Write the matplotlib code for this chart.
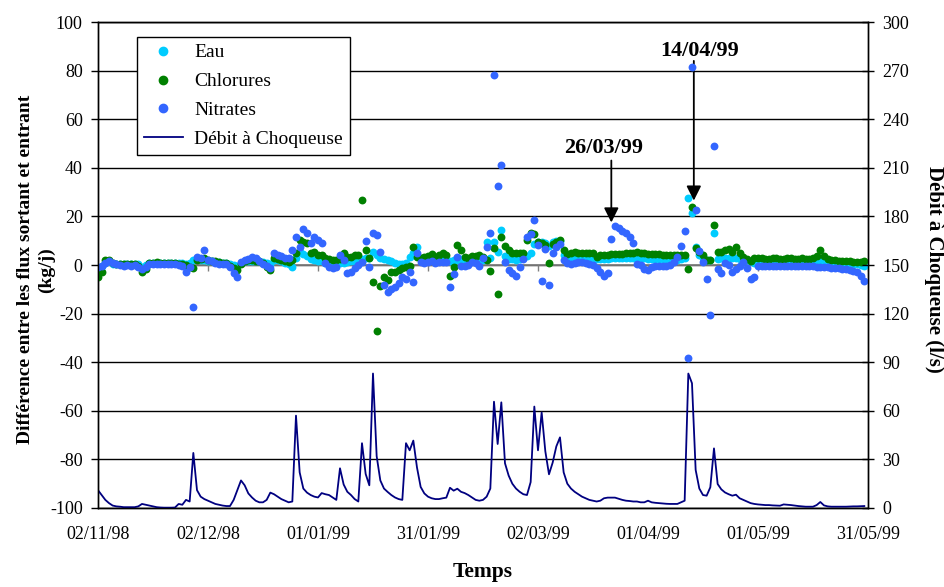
import matplotlib
matplotlib.use('Agg')
import matplotlib.pyplot as plt
from matplotlib.lines import Line2D
import pandas as pd

plt.rcParams['font.family'] = ['Liberation Serif', 'DejaVu Serif']
plt.rcParams['axes.unicode_minus'] = False

# ---------------- data (daily values from 02/11/98) ----------------
start_date = '1998-11-02'
tick_labels = ['02/11/98', '02/12/98', '01/01/99', '31/01/99',
               '02/03/99', '01/04/99', '01/05/99', '31/05/99']

eau = [-1.5, -0.5, 1.0, 1.5, 0.5, 0.5, 0.5, 0.3, 0.5, 0.3,
       0.5, 0.3, -1.0, 0.0, 0.8, 0.8, 0.8, 0.8, 0.8, 0.8,
       0.8, 0.8, 0.8, 0.8, 0.5, 1.0, 2.0, 2.5, 2.2, 2.0,
       1.8, 1.5, 1.4, 1.2, 1.0, 0.8, 0.5, 0.0, -0.5, 1.0,
       1.5, 1.8, 1.8, 1.6, 1.5, 1.2, 0.8, 0.5, 2.0, 2.0,
       1.5, 1.0, 0.5, -0.7, 3.0, 5.5, 4.5, 3.5, 2.5, 2.0,
       1.8, 1.5, 1.0, 1.0, 0.8, 0.8, 1.0, 1.0, 1.2, 1.5,
       1.8, 2.2, 2.5, 3.0, 2.8, 5.5, 4.0, 3.0, 2.5, 2.0,
       1.5, 1.0, 0.5, 0.3, 1.0, 3.4, 4.8, 7.3, 2.5, 2.0,
       2.0, 2.2, 2.0, 2.0, 2.2, 2.0, 1.5, 2.0, 2.2, 2.5,
       2.2, 2.0, 2.2, 2.5, 2.5, 2.0, 9.6, 3.0, 9.6, 5.5,
       14.4, 3.5, 2.5, 2.5, 2.2, 2.5, 2.8, 3.5, 4.8, 8.5,
       9.5, 9.5, 9.0, 8.0, 9.5, 10.0, 10.0, 4.0, 3.0, 2.8,
       2.8, 2.5, 2.5, 2.5, 2.5, 2.4, 2.5, 2.5, 2.5, 2.6,
       2.7, 2.8, 2.8, 3.0, 3.0, 3.0, 3.0, 3.0, 2.8, 2.8,
       2.6, 2.5, 2.5, 2.4, 2.3, 2.2, 2.2, 2.0, 2.0, 2.5,
       3.0, 27.4, 21.3, 7.5, 4.0, 3.0, 2.0, 2.0, 13.3, 2.5,
       2.8, 3.0, 3.0, 2.8, 3.0, 2.5, 2.5, 2.0, 1.5, 1.0,
       1.0, 1.0, 0.9, 1.0, 1.0, 1.1, 1.0, 1.0, 0.9, 1.0,
       1.0, 1.0, 1.0, 1.1, 1.2, 1.2, 1.3, 1.5, 1.2, 1.0,
       1.0, 0.9, 0.8, 0.8, 0.7, 0.6, 0.5, 0.3, 0.0, -0.5]

chlorures = [-4.8, -2.7, 2.0, 2.0, 1.0, 0.5, 0.5, 0.3, 0.5, 0.3,
             0.3, -0.5, -2.7, -1.5, 0.8, 1.0, 1.2, 1.0, 1.0, 0.8,
             1.0, 0.8, 0.5, 0.3, 0.0, -1.0, -1.4, 2.0, 2.5, 2.7,
             2.0, 1.8, 1.5, 1.4, 1.0, 0.8, -0.5, -1.4, -2.0, 0.5,
             1.5, 2.0, 2.0, 1.8, 1.5, 1.0, -1.0, -2.0, 2.7, 2.5,
             2.0, 1.5, 1.4, 2.0, 5.0, 10.3, 9.6, 8.9, 4.8, 5.5,
             4.1, 4.1, 2.7, 2.5, 2.0, 2.0, 2.5, 4.8, 3.4, 3.4,
             4.1, 4.0, 26.7, 6.2, 2.7, -6.9, -27.0, -8.6, -5.1, -6.2,
             -2.7, -2.7, -2.0, -1.4, -1.0, -0.4, 7.3, 3.4, 2.7, 3.4,
             3.8, 4.5, 3.4, 4.1, 4.8, 4.0, -4.5, -1.0, 8.2, 6.2,
             3.4, 3.0, 3.7, 3.7, 4.1, 3.4, 2.0, -2.3, 6.9, -11.9,
             11.7, 7.8, 6.2, 5.1, 4.8, 4.8, 4.8, 10.3, 13.3, 12.8,
             9.6, 8.9, 8.2, 0.7, 8.6, 9.6, 10.3, 6.2, 4.5, 5.0,
             5.2, 5.0, 5.0, 4.8, 5.0, 4.8, 3.4, 4.0, 4.2, 4.3,
             4.5, 4.5, 4.5, 4.6, 4.8, 4.8, 5.0, 5.5, 5.0, 4.8,
             4.5, 4.5, 4.5, 4.4, 4.3, 4.2, 4.1, 4.1, 4.0, 4.0,
             4.1, -1.6, 24.0, 6.9, 5.5, 4.1, 2.0, 2.0, 16.5, 5.5,
             5.5, 6.0, 6.4, 5.5, 7.3, 4.8, 3.4, 2.5, 1.8, 2.7,
             3.0, 2.8, 2.5, 2.5, 2.7, 3.0, 2.5, 2.5, 2.8, 2.7,
             2.5, 2.5, 2.7, 2.5, 2.5, 3.0, 3.5, 6.2, 3.5, 2.5,
             2.2, 2.0, 1.8, 1.8, 1.5, 1.5, 1.4, 1.4, 1.4, 1.5]

nitrates = [-1.0, -0.5, 1.0, 1.8, 0.8, 0.3, 0.0, -0.3, 0.0, -0.5,
            0.0, -1.0, -1.8, -0.8, 0.3, 0.5, 0.3, 0.3, 0.5, 0.3,
            0.5, 0.3, 0.0, -0.5, -2.7, -0.7, -17.1, 3.4, 2.7, 6.2,
            2.0, 1.5, 0.8, 0.5, 0.3, 0.5, -0.7, -3.2, -5.1, 1.4,
            2.0, 2.5, 3.4, 2.7, 1.5, 0.5, -0.5, -1.4, 5.0, 4.0,
            3.5, 3.0, 2.7, 6.2, 11.7, 7.5, 14.7, 13.0, 8.9, 11.7,
            10.3, 8.9, 1.0, -1.0, -1.4, -1.0, 4.1, 2.0, -3.4, -2.7,
            -1.4, 0.0, 1.4, 9.9, -1.0, 13.3, 12.3, 5.5, -8.2, -11.0,
            -9.9, -8.9, -7.5, -4.8, -5.9, -2.7, -6.9, 4.8, 1.4, 1.0,
            1.4, 1.8, 0.7, 1.4, 1.4, 1.4, -8.9, -3.7, 3.4, -0.4,
            -0.4, 0.0, 1.4, 1.0, -0.4, 2.7, 7.3, 13.3, 78.0, 32.5,
            41.0, 1.4, -2.0, -3.2, -4.5, -1.0, 2.3, 11.7, 12.8, 18.5,
            8.2, -6.4, 6.4, -8.2, 4.8, 7.5, 8.6, 2.0, 1.0, 0.4,
            1.0, 1.2, 1.4, 1.0, 0.5, 0.0, -1.4, -2.7, -4.5, -3.4,
            10.7, 16.0, 15.1, 14.1, 13.0, 11.4, 9.2, 0.4, 0.0, -1.8,
            -2.0, -1.0, -0.6, -0.4, -0.4, -0.4, 0.0, 1.4, 3.4, 7.8,
            14.1, -38.3, 81.5, 22.6, 5.9, 1.4, -5.9, -20.6, 49.0, -1.8,
            -3.2, 1.0, 0.0, -2.7, -1.8, -0.4, 1.4, -1.4, -5.9, -5.1,
            -0.5, -0.5, -0.4, -0.5, -0.5, -0.6, -0.5, -0.5, -0.4, -0.5,
            -0.5, -0.5, -0.6, -0.5, -0.5, -0.6, -0.7, -0.8, -1.0, -1.0,
            -1.2, -1.4, -1.4, -1.8, -1.8, -2.0, -2.3, -2.7, -4.5, -6.4]

debit = [11, 8, 5, 3, 1.5, 1, 0.8, 0.5, 0.5, 0.5,
         0.5, 1, 2.5, 2, 1.5, 1, 0.5, 0.3, 0.2, 0.2,
         0.2, 0.3, 2.5, 2, 5, 4, 34, 11, 7, 5.5,
         4.5, 3.5, 2.5, 2, 1.5, 1.2, 1.2, 5, 11, 17,
         14, 9, 6.5, 4.5, 3.5, 3.5, 5, 9.5, 8.5, 7,
         5.5, 4.5, 3.5, 4, 57, 22, 12, 9.5, 8, 7,
         6.5, 9.2, 8.5, 8, 6.5, 5, 24.5, 14.5, 10, 8,
         5.5, 4, 40, 21, 14, 83, 32, 17, 12, 9.9,
         8, 6.5, 5.5, 5, 40, 35.6, 41.6, 25, 13, 9,
         7, 6, 5.5, 5.5, 6, 6.4, 12.5, 10.7, 11.9, 10,
         9.2, 8, 6.5, 5, 4.5, 5, 7, 12, 65.6, 39.5,
         65.2, 27.6, 20, 15, 12, 10, 8.5, 8, 16, 62.6,
         35.6, 59, 35, 20.8, 28, 38, 43.6, 22, 15, 12,
         10, 8.5, 7, 6, 5, 4.5, 4, 4.5, 6, 6.4,
         6.4, 6.4, 5.7, 5, 4.5, 4.3, 4, 4, 3.5, 3.5,
         4.5, 3.5, 3.2, 3, 2.8, 2.6, 2.5, 2.5, 2.5, 3.5,
         4.5, 83, 77, 23.5, 12, 8, 7.6, 12.8, 36.8, 14.8,
         11.5, 9.6, 8.5, 7.6, 8.2, 6, 5, 4, 3, 2.5,
         2.2, 2, 1.8, 1.8, 1.6, 1.5, 1.4, 2.2, 2, 1.8,
         1.5, 1.2, 1, 0.8, 0.8, 0.8, 1.8, 3.7, 1.6, 1,
         0.8, 0.8, 0.8, 0.8, 0.8, 0.9, 1, 1, 1.1, 1.2]

dates = pd.date_range(start_date, periods=len(eau), freq='D')
tick_dates = pd.to_datetime(tick_labels, format='%d/%m/%y')

c_eau = '#00CCFF'
c_chl = '#008000'
c_nit = '#3366FF'
c_deb = '#000080'

#--------------------------------------------------------
fig = plt.figure(figsize=(9.45, 5.87), dpi=100)
ax = fig.add_axes([0.1037, 0.1346, 0.8148, 0.8279])
ax2 = ax.twinx()

ax.set_ylim(-100, 100)
ax.set_yticks(range(-100, 101, 20))
ax.set_xlim(tick_dates[0], tick_dates[-1])
ax.yaxis.grid(True, color='black', lw=1)
ax.set_axisbelow(True)
ax.axhline(0, color='#808080', lw=1.3, zorder=1)
ax.vlines(tick_dates, -2.5, 0, color='#808080', lw=1, zorder=1)

ms = 32
ax.scatter(dates, eau, s=ms, color=c_eau, lw=0, zorder=3)
ax.scatter(dates, chlorures, s=ms, color=c_chl, lw=0, zorder=4)
ax.scatter(dates, nitrates, s=ms, color=c_nit, lw=0, zorder=5)

ax2.plot(dates, debit, color=c_deb, lw=1.3)
ax2.set_ylim(0, 300)
ax2.set_yticks(range(0, 301, 30))

ax.set_xticks(tick_dates)
ax.set_xticklabels(tick_labels)
ax.tick_params(axis='x', length=0, pad=13, labelsize=13)
ax.tick_params(axis='y', direction='out', length=5, width=1, pad=6, labelsize=13)
ax2.tick_params(axis='y', direction='inout', length=9, width=1, pad=6, labelsize=13)

for a in (ax, ax2):
    for s in a.spines.values():
        s.set_color('black')
        s.set_linewidth(1)

ax.set_ylabel('Différence entre les flux sortant et entrant\n(kg/j)',
              fontsize=14, fontweight='bold', linespacing=1.3)
ax.yaxis.set_label_coords(-0.056, 0.49)
ax2.set_ylabel('Débit à Choqueuse (l/s)', fontsize=15, fontweight='bold',
               rotation=270, va='bottom')
ax2.yaxis.set_label_coords(1.073, 0.49)
ax.set_xlabel('Temps', fontsize=15.5, fontweight='bold', labelpad=14)

# annotations
ax.annotate('', xy=(pd.Timestamp('1999-03-22'), 17.5),
            xytext=(pd.Timestamp('1999-03-22'), 43),
            arrowprops=dict(arrowstyle='-|>', color='black', lw=1.3,
                            mutation_scale=22, shrinkA=0, shrinkB=0))
ax.text(pd.Timestamp('1999-03-20'), 48, '26/03/99', ha='center', va='center',
        fontsize=16, fontweight='bold')
ax.annotate('', xy=(pd.Timestamp('1999-04-13 12:00'), 26.5),
            xytext=(pd.Timestamp('1999-04-13 12:00'), 84),
            arrowprops=dict(arrowstyle='-|>', color='black', lw=1.3,
                            mutation_scale=22, shrinkA=0, shrinkB=0))
ax.text(pd.Timestamp('1999-04-15'), 88, '14/04/99', ha='center', va='center',
        fontsize=16, fontweight='bold')

handles = [Line2D([], [], ls='none', marker='o', ms=6, mfc=c_eau, mec=c_eau),
           Line2D([], [], ls='none', marker='o', ms=6, mfc=c_chl, mec=c_chl),
           Line2D([], [], ls='none', marker='o', ms=6, mfc=c_nit, mec=c_nit),
           Line2D([], [], color=c_deb, lw=1.3)]
labels = ['Eau', 'Chlorures', 'Nitrates', 'Débit à Choqueuse']
leg = ax2.legend(handles, labels, loc='upper left', bbox_to_anchor=(0.0506, 0.969),
                 borderaxespad=0, fontsize=14, frameon=True, fancybox=False,
                 edgecolor='black', framealpha=1, handlelength=2.0,
                 labelspacing=0.58, borderpad=0.35, handletextpad=0.6)
leg.get_frame().set_linewidth(1)

fig.savefig('out.png', dpi=100)
